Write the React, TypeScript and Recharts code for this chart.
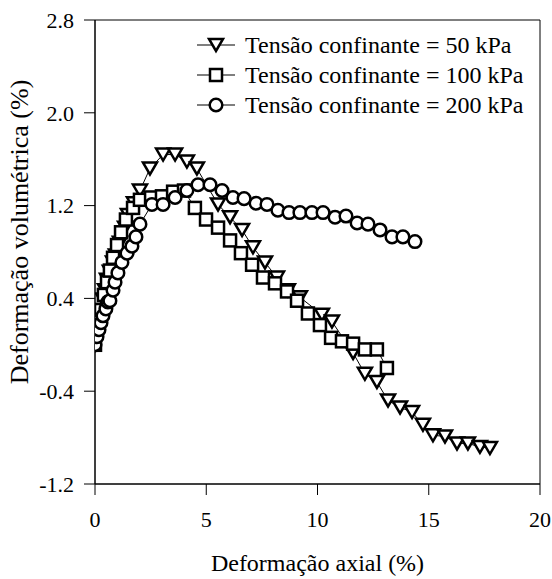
import { LineChart, Line, XAxis, YAxis, ReferenceArea, Legend, Label } from "recharts";

// Deformação axial (%) / deformação volumétrica (%) for each confining stress
const axial50 = [
  0, 0.09, 0.18, 0.27, 0.36, 0.45, 0.54, 0.67, 0.81, 0.94, 1.12, 1.35, 1.48, 1.75, 2.02, 2.47,
  3.06, 3.6, 4.13, 4.58, 5.53, 6.07, 6.61, 7.1, 7.64, 8.18, 8.67, 9.21, 10.2, 10.65, 11.6,
  12.13, 12.67, 13.17, 13.71, 14.25, 14.74, 15.19, 15.73, 16.27, 16.76, 17.3, 17.75,
];
const vol50 = [
  0, 0.11, 0.21, 0.3, 0.39, 0.47, 0.56, 0.63, 0.71, 0.77, 0.88, 1.01, 1.12, 1.22, 1.33, 1.52,
  1.64, 1.64, 1.58, 1.52, 1.21, 1.1, 0.99, 0.84, 0.71, 0.58, 0.47, 0.41, 0.26, 0.2, -0.07,
  -0.25, -0.32, -0.48, -0.54, -0.58, -0.69, -0.78, -0.79, -0.85, -0.85, -0.88, -0.89,
];

const axial100 = [
  0, 0.13, 0.27, 0.4, 0.54, 0.67, 0.81, 0.99, 1.17, 1.39, 1.71, 2.02, 2.52, 3.01, 3.51, 4.0,
  4.49, 4.99, 5.53, 6.07, 6.56, 7.06, 7.55, 8.09, 8.63, 9.08, 9.57, 10.11, 10.61, 11.1, 11.6,
  12.13, 12.67, 13.12,
];
const vol100 = [
  0, 0.17, 0.3, 0.43, 0.54, 0.64, 0.75, 0.86, 0.97, 1.08, 1.18, 1.25, 1.27, 1.28, 1.32, 1.33,
  1.18, 1.08, 1.01, 0.9, 0.79, 0.69, 0.58, 0.53, 0.46, 0.38, 0.27, 0.17, 0.06, 0.03, 0.01,
  -0.04, -0.04, -0.2,
];

const axial200 = [
  0, 0.09, 0.18, 0.27, 0.36, 0.49, 0.58, 0.67, 0.81, 0.9, 1.03, 1.21, 1.44, 1.66, 1.84, 2.02,
  2.56, 3.06, 3.6, 4.13, 4.63, 5.17, 5.71, 6.2, 6.7, 7.24, 7.73, 8.22, 8.72, 9.21, 9.75,
  10.25, 10.79, 11.28, 11.78, 12.27, 12.81, 13.35, 13.84, 14.38,
];
const vol200 = [
  0, 0.07, 0.13, 0.19, 0.25, 0.31, 0.37, 0.38, 0.47, 0.54, 0.62, 0.71, 0.79, 0.85, 0.93, 1.04,
  1.21, 1.21, 1.27, 1.33, 1.38, 1.38, 1.33, 1.27, 1.26, 1.22, 1.21, 1.16, 1.14, 1.14, 1.14,
  1.14, 1.1, 1.11, 1.05, 1.04, 0.99, 0.93, 0.93, 0.89,
];

const seriesNames = [
  "Tensão confinante = 50 kPa",
  "Tensão confinante = 100 kPa",
  "Tensão confinante = 200 kPa",
];
const xTicks = [0, 5, 10, 15, 20];
const yTicks = [-1.2, -0.4, 0.4, 1.2, 2.0, 2.8];

const toPoints = (xs: number[], ys: number[]) => xs.map((x, i) => ({ x, y: ys[i] }));
const data50 = toPoints(axial50, vol50);
const data100 = toPoints(axial100, vol100);
const data200 = toPoints(axial200, vol200);

const FONT = '"Liberation Serif", "Times New Roman", Times, serif';

type Shape = "triangle" | "square" | "circle";

function marker(shape: Shape, cx: number, cy: number, key?: string) {
  const common = { fill: "#fff", stroke: "#000", strokeWidth: 2.5 };
  if (shape === "triangle") {
    return <path key={key} d={`M${cx - 7},${cy - 6}L${cx + 7},${cy - 6}L${cx},${cy + 6}Z`} {...common} />;
  }
  if (shape === "square") {
    return <rect key={key} x={cx - 6} y={cy - 6} width={12} height={12} {...common} />;
  }
  return <circle key={key} cx={cx} cy={cy} r={6.3} {...common} />;
}

const dotFor = (shape: Shape) => (props: any) => {
  const { cx, cy, index } = props;
  if (cx == null || cy == null) return <g key={`${shape}-${index}`} />;
  return marker(shape, cx, cy, `${shape}-${index}`);
};

const shapes: Shape[] = ["triangle", "square", "circle"];

function LegendBox() {
  return (
    <div style={{ fontFamily: FONT, fontSize: 24, color: "#000" }}>
      {seriesNames.map((name, i) => (
        <div key={name} style={{ display: "flex", alignItems: "center", height: 30 }}>
          <svg width={44} height={20} style={{ marginRight: 6 }}>
            <line x1={2} y1={10} x2={40} y2={10} stroke="#000" strokeWidth={1.2} />
            {marker(shapes[i], 21, 10)}
          </svg>
          <span>{name}</span>
        </div>
      ))}
    </div>
  );
}

const tickStyle = { fill: "#000", fontSize: 22, fontFamily: FONT, style: { fontFamily: FONT } };

export default function App() {
  return (
    <div style={{ position: "absolute", left: 0, top: 0, background: "#fff", fontFamily: FONT }}>
      <LineChart width={552} height={579} margin={{ top: 20, right: 12, bottom: 0, left: 0 }}>
        <XAxis
          type="number"
          dataKey="x"
          domain={[0, 20]}
          ticks={xTicks}
          allowDataOverflow
          height={95}
          stroke="#000"
          tickSize={11}
          tickMargin={16}
          tick={tickStyle}
        >
          <Label
            value="Deformação axial (%)"
            position="insideBottom"
            offset={8}
            style={{ fill: "#000", fontSize: 24, fontFamily: FONT }}
          />
        </XAxis>
        <YAxis
          type="number"
          dataKey="y"
          domain={[-1.2, 2.8]}
          ticks={yTicks}
          allowDataOverflow
          width={95}
          stroke="#000"
          tickSize={11}
          tickMargin={10}
          tickFormatter={(v: number) => v.toFixed(1)}
          tick={tickStyle}
        >
          <Label
            content={() => (
              <text
                x={22}
                y={232}
                transform="rotate(-90, 22, 232)"
                textAnchor="middle"
                dominantBaseline="middle"
                style={{ fill: "#000", fontSize: 26, fontFamily: FONT }}
              >
                Deformação volumétrica (%)
              </text>
            )}
          />
        </YAxis>
        <ReferenceArea x1={0} x2={20} y1={-1.2} y2={2.8} fill="none" stroke="#000" strokeWidth={1} ifOverflow="visible" />
        <Legend
          layout="vertical"
          align="center"
          verticalAlign="middle"
          content={() => <LegendBox />}
          wrapperStyle={{ position: "absolute", top: 30, left: 195, width: 345 }}
        />
        <Line
          data={data50}
          dataKey="y"
          name={seriesNames[0]}
          stroke="#000"
          strokeWidth={1}
          dot={dotFor("triangle")}
          isAnimationActive={false}
        />
        <Line
          data={data100}
          dataKey="y"
          name={seriesNames[1]}
          stroke="#000"
          strokeWidth={1}
          dot={dotFor("square")}
          isAnimationActive={false}
        />
        <Line
          data={data200}
          dataKey="y"
          name={seriesNames[2]}
          stroke="#000"
          strokeWidth={1}
          dot={dotFor("circle")}
          isAnimationActive={false}
        />
      </LineChart>
    </div>
  );
}
